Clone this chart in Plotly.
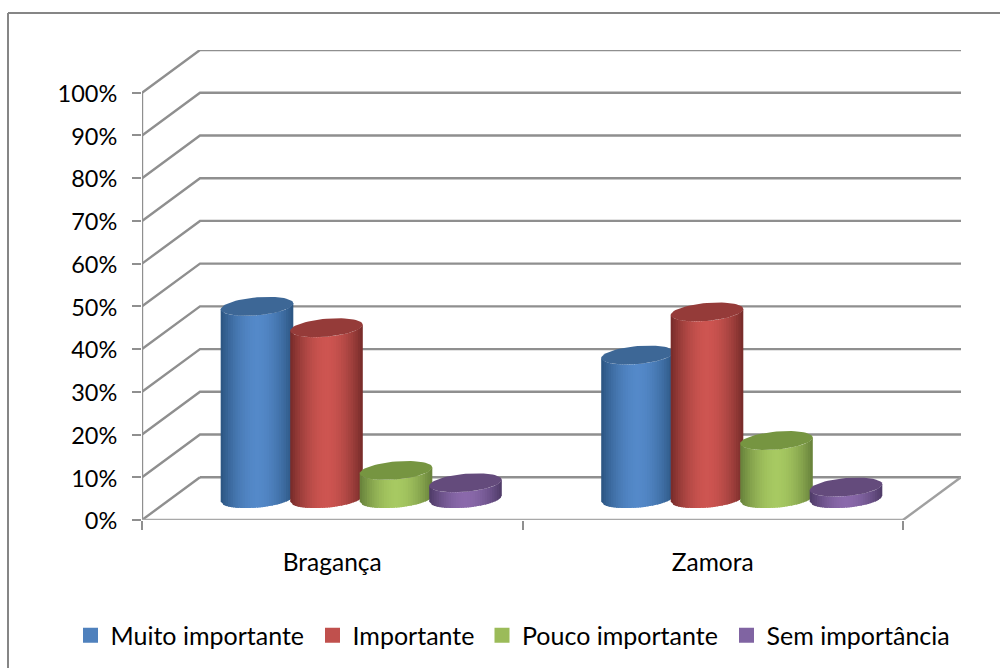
import math
import plotly.graph_objects as go

categories = ["Bragança", "Zamora"]
series_names = ["Muito importante", "Importante", "Pouco importante", "Sem importância"]
muito = [45.0, 33.6]
importante = [40.0, 43.7]
pouco = [6.6, 13.6]
sem = [3.7, 2.7]
y_ticks = [0, 10, 20, 30, 40, 50, 60, 70, 80, 90, 100]
y_labels = [f"{v}%" for v in y_ticks]

legend_colors = ["#4f81bd", "#c0504d", "#9bbb59", "#8064a2"]
center_colors = ["#5489c9", "#cd5551", "#a7c962", "#8a69ab"]
edge_colors = ["#2b5480", "#752b29", "#66803a", "#4d3a66"]
top_colors = ["#3d6796", "#953b39", "#769541", "#644b7c"]
legend_left_px = [70.5, 312.5, 482, 726.5]

AXIS = "#8f8f8f"
W, H = 1000, 668
L, R, T, B = 142, 961, 49.5, 520
PX_X = (R - L) / (2 + 58 / 380.5)
PX_Y = (B - T) / 110
DX, DY = 58 / PX_X, 10
SPACING = 69.5 / PX_X
RX = 36.3 / PX_X
EB, ES = 9.0 / PX_Y, 3.0 / PX_Y
STRIPS = 30
WALL_END = 2 + DX + 2 / PX_X

def rgb(h):
    return [int(h[i:i + 2], 16) for i in (1, 3, 5)]

def mix(a, b, f):
    ca, cb = rgb(a), rgb(b)
    return "rgb(%d,%d,%d)" % tuple(round(p + (q - p) * f) for p, q in zip(ca, cb))

def front(u, cy):
    return cy + ES * u - EB * math.sqrt(max(0, 1 - u * u))

fig = go.Figure()

def seg(xs, ys, color=AXIS, width=2.4):
    fig.add_trace(go.Scatter(x=xs, y=ys, mode="lines", line=dict(color=color, width=width),
                             showlegend=False, hoverinfo="skip", cliponaxis=False))

# back wall and side wall gridlines
for v in y_ticks:
    seg([0, DX, WALL_END] if v else [DX, WALL_END], [v, v + DY, v + DY] if v else [DY, DY])
seg([0, DX], [0, DY])
seg([2, WALL_END - 2 / PX_X], [0, DY], "#a0a0a0")
seg([0, 0], [0, 100])
seg([0, 2], [0, 0], "#a8a8a8")

# cylinders
values = [muito, importante, pouco, sem]
for c in range(len(categories)):
    for s in range(4):
        cx = c + 0.5 + DX / 2 + (s - 1.5) * SPACING
        base = DY / 2
        top = values[s][c] + DY / 2
        for k in range(STRIPS):
            u0 = -1 + 2 * k / STRIPS
            u1 = -1 + 2 * min(k + 1.6, STRIPS) / STRIPS
            um = -1 + 2 * (k + 0.5) / STRIPS
            f = abs(um) ** 1.8
            col = mix(center_colors[s], edge_colors[s], f)
            xs = [cx + RX * u0, cx + RX * u1, cx + RX * u1, cx + RX * u0, cx + RX * u0]
            ys = [front(u0, base), front(u1, base), front(u1, top), front(u0, top), front(u0, base)]
            fig.add_trace(go.Scatter(x=xs, y=ys, mode="lines", fill="toself", fillcolor=col,
                                     line=dict(width=0), showlegend=False, hoverinfo="skip"))
        n = 60
        ex = [cx + RX * math.cos(2 * math.pi * i / n) for i in range(n + 1)]
        ey = [top + ES * math.cos(2 * math.pi * i / n) + EB * math.sin(2 * math.pi * i / n) for i in range(n + 1)]
        fig.add_trace(go.Scatter(x=ex, y=ey, mode="lines", fill="toself", fillcolor=top_colors[s],
                                 line=dict(width=0), showlegend=False, hoverinfo="skip"))

FONT = dict(family="Lato, Carlito, sans-serif", size=23.5, color="#000000")
LEG_FONT = dict(family="Lato, Carlito, sans-serif", size=25, color="#000000")
CAT_FONT = dict(family="Lato, Carlito, sans-serif", size=24.5, color="#000000")

# legend entries, one positioned legend per series
legend_layouts = {}
for i, (name, col, lx) in enumerate(zip(series_names, legend_colors, legend_left_px)):
    key = "legend" if i == 0 else f"legend{i + 1}"
    fig.add_trace(go.Scatter(x=[None], y=[None], mode="markers", name=name, legend=key, showlegend=True,
                             marker=dict(symbol="square", size=15, color=col)))
    legend_layouts[key] = dict(orientation="h", xref="container", yref="container",
                               x=lx / W, xanchor="left", y=(H - 635.5) / H, yanchor="middle",
                               font=LEG_FONT, bgcolor="rgba(0,0,0,0)",
                               itemclick=False, itemdoubleclick=False)

fig.update_layout(
    width=W, height=H, autosize=False,
    margin=dict(l=L, r=W - R, t=T, b=H - B, pad=0),
    paper_bgcolor="white", plot_bgcolor="white",
    font=FONT,
    showlegend=True,
    xaxis=dict(range=[0, 2 + DX], tickmode="array", tickvals=[0.5, 1.5], ticktext=categories,
               ticks="", showgrid=False, zeroline=False, showline=False, ticklabelstandoff=25,
               tickfont=CAT_FONT,
               minor=dict(tickmode="array", tickvals=[0, 1, 2], ticks="outside", ticklen=9,
                          tickwidth=2, tickcolor=AXIS, showgrid=False)),
    yaxis=dict(range=[0, 100 + DY], tickmode="array", tickvals=y_ticks, ticktext=y_labels,
               ticks="outside", ticklen=9, tickwidth=2, tickcolor=AXIS, showgrid=False,
               zeroline=False, showline=False, ticklabelstandoff=10, ticklabelshift=1, tickfont=FONT),
    shapes=[
        dict(type="line", xref="paper", yref="paper",
             x0=(8 - L) / (R - L), x1=(8 - L) / (R - L), y0=(B - 12.5) / (B - T), y1=(B - 670) / (B - T),
             line=dict(color="#868686", width=2), layer="below"),
        dict(type="line", xref="paper", yref="paper",
             x0=(8 - L) / (R - L), x1=(1002 - L) / (R - L), y0=(B - 12.5) / (B - T), y1=(B - 12.5) / (B - T),
             line=dict(color="#868686", width=2), layer="below"),
    ],
    **legend_layouts,
)

fig.write_html("out.html", post_script="document.body.style.margin='0';document.body.style.overflow='hidden';",
               config=dict(displayModeBar=False))
